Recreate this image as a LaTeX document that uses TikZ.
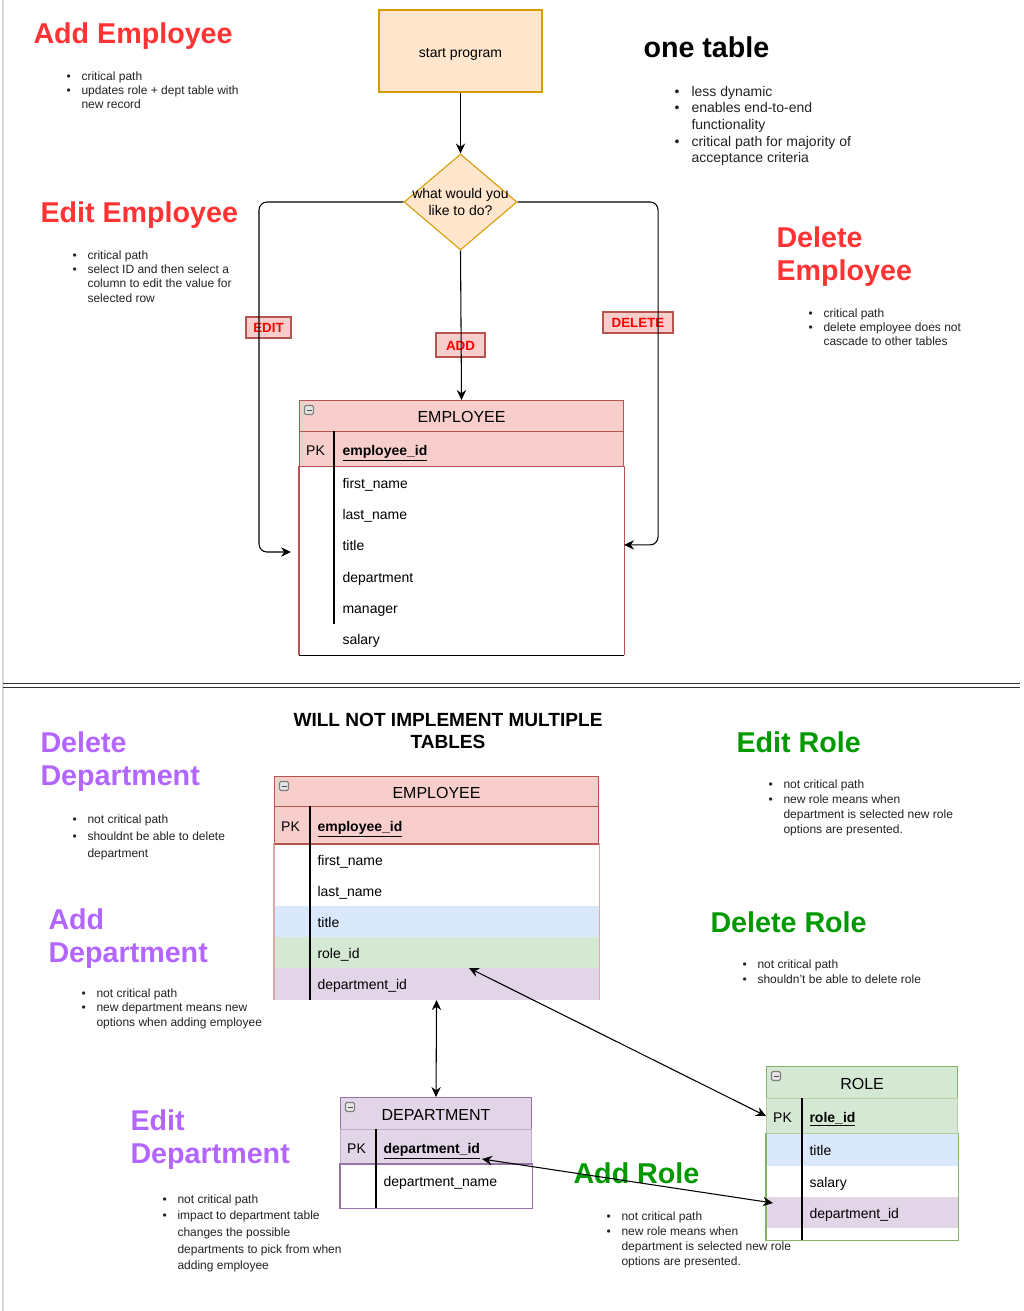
\documentclass[tikz,border=0pt]{standalone}
\usepackage{fontspec}
\setmainfont{Liberation Sans}
\usetikzlibrary{arrows.meta,shapes.geometric}

\definecolor{titlered}{HTML}{FF3333}
\definecolor{titlepurple}{HTML}{B266FF}
\definecolor{titlegreen}{HTML}{009900}
\definecolor{orangefill}{HTML}{FFE6CC}
\definecolor{orangeline}{HTML}{D79B00}
\definecolor{redfill}{HTML}{F8CECC}
\definecolor{redline}{HTML}{B85450}
\definecolor{bluefill}{HTML}{DAE8FC}
\definecolor{greenfill}{HTML}{D5E8D4}
\definecolor{greenline}{HTML}{82B366}
\definecolor{purplefill}{HTML}{E1D5E7}
\definecolor{purpleline}{HTML}{9673A6}
\definecolor{notegray}{HTML}{222222}

\newcommand{\notes}[2][11.25pt]{\begin{tabular}[t]{@{}p{#1}@{}l@{}}#2\end{tabular}}
\newcommand{\fld}[1]{\hspace*{32.25pt}#1}
\newcommand{\pkfld}[1]{\makebox[32.25pt][l]{\hspace*{5pt}PK}\textbf{\underline{#1}}}

\tikzset{
  heading/.style={anchor=base west, inner sep=0pt, align=left, font=\bfseries\fontsize{21.5}{24.75}\selectfont},
  bigcaption/.style={anchor=base, inner sep=0pt, align=center, font=\bfseries\fontsize{14.3}{16.5}\selectfont},
  notelist/.style={anchor=base west, inner sep=0pt, text=notegray, font=\fontsize{9}{#1}\selectfont},
  startbox/.style={draw=orangeline, fill=orangefill, inner sep=0pt, minimum width=122.25pt, minimum height=61.5pt, text height=10pt, text depth=0pt, font=\fontsize{10.5}{12.6}\selectfont},
  choicebox/.style={diamond, draw=orangeline, fill=orangefill, inner sep=0pt, minimum width=84.75pt, minimum height=72pt, align=center, font=\fontsize{10.5}{12.75}\selectfont},
  flowlabel/.style={draw=redline, fill=redfill, text=red, inner sep=0pt, text height=7.5pt, text depth=0pt, font=\bfseries\fontsize{10}{12}\selectfont},
  tabhead/.style={draw=#1, anchor=north west, inner sep=0pt, text height=10pt, text depth=0pt, font=\fontsize{12}{14}\selectfont},
  tabrow/.style={anchor=north west, inner sep=0pt, text width=#1, align=left, text height=9pt, text depth=0pt, font=\fontsize{10.5}{12.6}\selectfont},
  minusicon/.style={draw=gray, fill=gray!20, rounded corners=1pt, minimum size=6.75pt, inner sep=0pt},
  divider/.style={line width=0.9pt},
  sepline/.style={line width=1.1pt, draw=black!80},
}

\begin{document}
\begin{tikzpicture}[x=0.75pt, y=-0.75pt, line width=0.8pt, >={Stealth[length=7.5pt, width=7pt, inset=2.5pt]}]
\useasboundingbox (0,0) rectangle (1024,1311);

%Page rules
\draw[black!15, line width=1pt] (3,0) -- (3,1311);
\draw[sepline] (3,683.5) -- (1020,683.5);
\draw[sepline] (3,687.5) -- (1020,687.5);

%Titles (base is the last line)
\node[heading, text=titlered] (addEmpTitle) at (33,43) {Add Employee};
\node[heading, text=titlered] (editEmpTitle) at (40,222) {Edit Employee};
\node[heading] (oneTableTitle) at (643,57) {one table};
\node[heading, text=titlered] (delEmpTitle) at (776,280) {Delete\\Employee};

\node[bigcaption] (multiTitle) at (448,748) {WILL NOT IMPLEMENT MULTIPLE\\TABLES};
\node[heading, text=titlepurple] (delDeptTitle) at (40,785) {Delete\\Department};
\node[heading, text=titlepurple] (addDeptTitle) at (48,962) {Add\\Department};
\node[heading, text=titlepurple] (editDeptTitle) at (130,1163) {Edit\\Department};
\node[heading, text=titlegreen] (editRoleTitle) at (736,752) {Edit Role};
\node[heading, text=titlegreen] (delRoleTitle) at (710,932) {Delete Role};
\node[heading, text=titlegreen] (addRoleTitle) at (573,1183) {Add Role};

%Notes
\node[notelist=10.8pt] (addEmpNotes) at (66,80) {\notes{\textbullet & critical path\\ \textbullet & updates role + dept table with\\ & new record}};
\node[notelist=10.8pt] (editEmpNotes) at (72,259) {\notes{\textbullet & critical path\\ \textbullet & select ID and then select a\\ & column to edit the value for\\ & selected row}};
\node[notelist=12.5pt, font=\fontsize{10.5}{12.5}\selectfont] (oneTableNotes) at (674,96) {\notes[12.75pt]{\textbullet & less dynamic\\ \textbullet & enables end-to-end\\ & functionality\\ \textbullet & critical path for majority of\\ & acceptance criteria}};
\node[notelist=10.5pt] (delEmpNotes) at (808,317) {\notes{\textbullet & critical path\\ \textbullet & delete employee does not\\ & cascade to other tables}};

\node[notelist=12.75pt] (delDeptNotes) at (72,823) {\notes{\textbullet & not critical path\\ \textbullet & shouldnt be able to delete\\ & department}};
\node[notelist=11pt] (addDeptNotes) at (81,997) {\notes{\textbullet & not critical path\\ \textbullet & new department means new\\ & options when adding employee}};
\node[notelist=12.5pt] (editDeptNotes) at (162,1203) {\notes{\textbullet & not critical path\\ \textbullet & impact to department table\\ & changes the possible\\ & departments to pick from when\\ & adding employee}};
\node[notelist=11.25pt] (editRoleNotes) at (768,788) {\notes{\textbullet & not critical path\\ \textbullet & new role means when\\ & department is selected new role\\ & options are presented.}};
\node[notelist=11.25pt] (delRoleNotes) at (742,968) {\notes{\textbullet & not critical path\\ \textbullet & shouldn't be able to delete role}};
\node[notelist=11.25pt] (addRoleNotes) at (606,1220) {\notes{\textbullet & not critical path\\ \textbullet & new role means when\\ & department is selected new role\\ & options are presented.}};

%Flow
\node[startbox] (nodeStart) at (460.5,51) {start program};
\node[choicebox] (nodeChoice) at (460.5,202) {\makebox[0pt]{what would you}\\\makebox[0pt]{like to do?}};

\node[flowlabel, minimum width=33.75pt, minimum height=15.75pt] (editLabel) at (268.5,327.5) {EDIT};
\node[flowlabel, minimum width=36.75pt, minimum height=18pt] (addLabel) at (460.5,345) {ADD};
\node[flowlabel, minimum width=52.5pt, minimum height=15.75pt] (deleteLabel) at (638,322.5) {DELETE};

%Employee table, one table
\node[tabhead=redline, fill=redfill, minimum width=243pt, minimum height=23.25pt] (emp1head) at (299,400) {EMPLOYEE};
\node[tabrow=243pt, draw=redline, fill=redfill, minimum height=26.25pt] (emp1key) at (299,431) {\pkfld{employee\_id}};
\node[tabrow=243pt, minimum height=23.5pt] (emp1first) at (299,466) {\fld{first\_name}};
\node[tabrow=243pt, minimum height=23.5pt] (emp1last) at (299,497.3) {\fld{last\_name}};
\node[tabrow=243pt, minimum height=23.5pt] (emp1title) at (299,528.7) {\fld{title}};
\node[tabrow=243pt, minimum height=23.5pt] (emp1dept) at (299,560) {\fld{department}};
\node[tabrow=243pt, minimum height=23.5pt] (emp1manager) at (299,591.3) {\fld{manager}};
\node[tabrow=243pt, minimum height=23.5pt] (emp1salary) at (299,622.7) {\fld{salary}};
\node[minusicon] (emp1icon) at (309,410) {\color{black!70}\rule{3.75pt}{0.75pt}};
\draw[redline] (emp1first.north west) -- (emp1salary.south west);
\draw[redline] (emp1first.north east) -- (emp1salary.south east);
\draw (emp1salary.south west) -- (emp1salary.south east);
\draw[divider] ([xshift=26.25pt]emp1key.north west) -- ([xshift=26.25pt]emp1manager.south west);

%Employee table, multiple tables
\node[tabhead=redline, fill=redfill, minimum width=243pt, minimum height=22.5pt] (emp2head) at (274,776) {EMPLOYEE};
\node[tabrow=243pt, draw=redline, fill=redfill, minimum height=27.75pt] (emp2key) at (274,806) {\pkfld{employee\_id}};
\node[tabrow=243pt, minimum height=23.4pt] (emp2first) at (274,843) {\fld{first\_name}};
\node[tabrow=243pt, minimum height=23.4pt] (emp2last) at (274,874.2) {\fld{last\_name}};
\node[tabrow=243pt, fill=bluefill, minimum height=23.4pt] (emp2title) at (274,905.4) {\fld{title}};
\node[tabrow=243pt, fill=greenfill, minimum height=23.4pt] (emp2role) at (274,936.6) {\fld{role\_id}};
\node[tabrow=243pt, fill=purplefill, minimum height=23.4pt] (emp2dept) at (274,967.8) {\fld{department\_id}};
\node[minusicon] (emp2icon) at (284,786) {\color{black!70}\rule{3.75pt}{0.75pt}};
\draw[redline!50] (emp2first.north west) -- (emp2dept.south west);
\draw[redline!50] (emp2first.north east) -- (emp2dept.south east);
\draw[redline] (emp2key.south west) -- (emp2key.south east);
\draw[divider] ([xshift=27pt]emp2key.north west) -- ([xshift=27pt]emp2dept.south west);

%Department table
\node[tabhead=purpleline, fill=purplefill, minimum width=143.25pt, minimum height=24pt] (deptHead) at (340,1097) {DEPARTMENT};
\node[tabrow=143.25pt, draw=purpleline!60, fill=purplefill, minimum height=26.25pt] (deptKey) at (340,1129) {\pkfld{department\_id}};
\node[tabrow=143.25pt, minimum height=24pt] (deptName) at (340,1164) {\fld{department\_name}};
\node[minusicon] (deptIcon) at (350,1107) {\color{black!70}\rule{3.75pt}{0.75pt}};
\draw[purpleline] (deptName.north west) rectangle ([yshift=-8.25pt]deptName.south east);
\draw[divider] ([xshift=27pt]deptKey.north west) -- ([xshift=27pt,yshift=-8.25pt]deptName.south west);

%Role table
\node[tabhead=greenline, fill=greenfill, minimum width=143.25pt, minimum height=24pt] (roleHead) at (766,1066) {ROLE};
\node[tabrow=143.25pt, draw=greenline!60, fill=greenfill, minimum height=26.25pt] (roleKey) at (766,1098) {\pkfld{role\_id}};
\node[tabrow=143.25pt, fill=bluefill, minimum height=24pt] (roleTitle) at (766,1133) {\fld{title}};
\node[tabrow=143.25pt, minimum height=23.25pt] (roleSalary) at (766,1165) {\fld{salary}};
\node[tabrow=143.25pt, fill=purplefill, minimum height=23.25pt] (roleDept) at (766,1196) {\fld{department\_id}};
\node[minusicon] (roleIcon) at (776,1076) {\color{black!70}\rule{3.75pt}{0.75pt}};
\draw[greenline] (roleTitle.north west) -- ([yshift=-9pt]roleDept.south west) -- ([yshift=-9pt]roleDept.south east) -- (roleTitle.north east);
\draw[divider] ([xshift=27pt]roleKey.north west) -- ([xshift=27pt,yshift=-9pt]roleDept.south west);

%Lines
\coordinate (editEnd) at (291,552);
\coordinate (roleTip) at (469,968);
\coordinate (deptTip) at (482,1159);
\coordinate (roleDeptTip) at (773,1203);

\draw[->] (nodeStart) -- (nodeChoice);
\draw[->] (nodeChoice.south) -- (emp1head.north);
\draw[->, rounded corners=6pt] (nodeChoice.west) -| ([xshift=-24pt]editEnd) -- (editEnd);
\draw[->, rounded corners=6pt] (nodeChoice.east) -| ([xshift=25.5pt]emp1title.east) -- (emp1title.east);

\draw[<->] (emp2dept.south) -- (deptHead.north);
\draw[<->] (roleTip) -- (roleKey.west);
\draw[<->] (deptTip) -- (roleDeptTip);
\end{tikzpicture}
\end{document}
